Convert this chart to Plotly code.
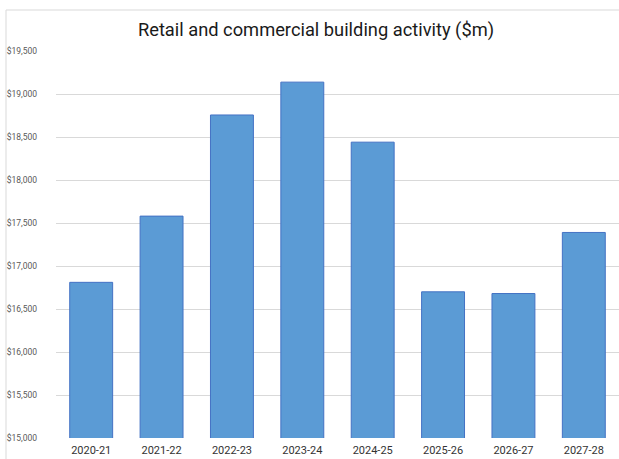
import plotly.graph_objects as go

# Financial years and retail/commercial building activity ($m)
years = ["2020-21", "2021-22", "2022-23", "2023-24", "2024-25", "2025-26", "2026-27", "2027-28"]
activity = [16810, 17580, 18756, 19138, 18440, 16700, 16680, 17390]

W, H = 619, 459
ML, MR, MT, MB = 56, 0, 51, 21
plot_w = W - ML - MR
plot_h = H - MT - MB

fig = go.Figure(
    go.Bar(
        x=years,
        y=activity,
        marker=dict(color="#5B9BD5", line=dict(color="#4472C4", width=1)),
        width=0.61,
        hoverinfo="x+y",
    )
)

# light chart-area frame (top and left edges visible)
fx0 = (6 - ML) / plot_w
fy1 = (H - MB - 10) / plot_h
fig.add_shape(
    type="rect", xref="paper", yref="paper",
    x0=fx0, x1=1.2, y0=-0.3, y1=fy1,
    line=dict(color="#D9D9D9", width=1), fillcolor="rgba(0,0,0,0)", layer="below",
)

fig.update_layout(
    width=W, height=H,
    margin=dict(l=ML, r=MR, t=MT, b=MB, pad=0),
    paper_bgcolor="white", plot_bgcolor="white",
    font=dict(family="Roboto, Arial, sans-serif"),
    showlegend=False,
    title=dict(
        text="Retail and commercial building activity ($m)",
        font=dict(size=18.3, color="#1a1a1a", family="Roboto, Arial, sans-serif"),
        x=316 / W, xanchor="center", xref="container",
        y=1 - 30 / H, yanchor="middle", yref="container",
    ),
    xaxis=dict(
        showgrid=False, showline=False, zeroline=False,
        tickfont=dict(size=11, color="#333333"),
        ticks="", ticklabelstandoff=4,
    ),
    yaxis=dict(
        range=[15000, 19500], dtick=500, tick0=15000,
        tickprefix="$", tickformat=",",
        showgrid=True, gridcolor="#D9D9D9", gridwidth=1,
        zeroline=False, showline=False, ticks="",
        tickfont=dict(size=8.5, color="#595959"),
        ticklabelstandoff=18,
    ),
)

fig.write_html("out.html")
